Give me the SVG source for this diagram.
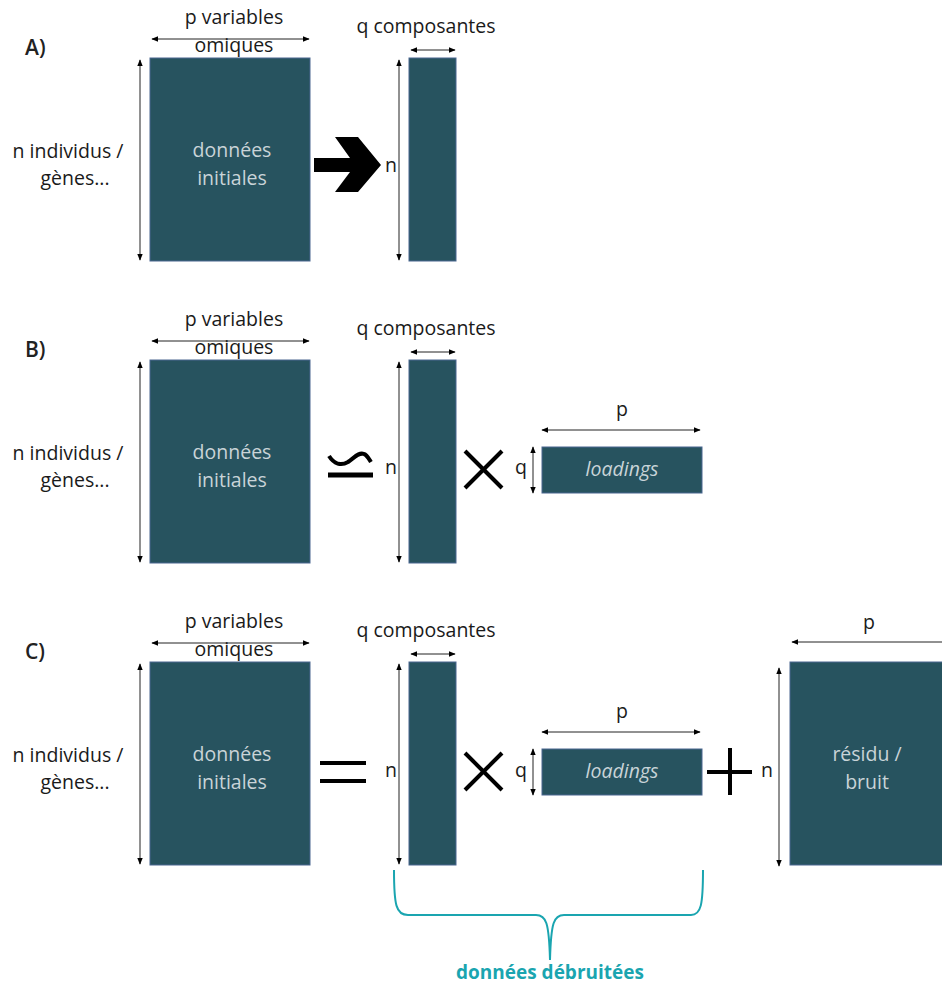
<svg xmlns="http://www.w3.org/2000/svg" width="942" height="985" viewBox="0 0 942 985">
<defs>
<marker id="ah" viewBox="0 0 10 10" refX="9" refY="5" markerWidth="7" markerHeight="7" markerUnits="userSpaceOnUse" orient="auto-start-reverse">
<path d="M0,1 L10,5 L0,9 Z" fill="#000"/>
</marker>
<style>
.m{fill:#27535F;stroke:#4A6690;stroke-width:1}
.t{font-family:"Open Sans","Liberation Sans",sans-serif;font-size:19.5px;fill:#1a1a1a;text-anchor:middle}
.w{font-family:"Open Sans","Liberation Sans",sans-serif;font-size:19.5px;fill:#C9D4D8;text-anchor:middle}
.i{font-style:italic}
.h{font-family:"Open Sans","Liberation Sans",sans-serif;font-size:21px;font-weight:600;fill:#222}
.d{stroke:#222;stroke-width:1;fill:none;marker-start:url(#ah);marker-end:url(#ah)}
.d1{stroke:#222;stroke-width:1;fill:none;marker-start:url(#ah)}
.op{stroke:#000;stroke-width:4;fill:none}
.br{stroke:#1AA5B0;stroke-width:2;fill:none}
.bt{font-family:"Open Sans","Liberation Sans",sans-serif;font-size:19px;font-weight:bold;fill:#1AA5B0;text-anchor:middle}
</style>
</defs>

<!-- Panel A -->
<g id="labelA"><text class="h" x="25" y="55">A)</text></g>
<g id="A-data">
<rect class="m" x="150" y="58" width="160" height="203"/>
<text class="w" x="232" y="157">données</text>
<text class="w" x="232" y="185">initiales</text>
</g>
<g id="A-labels">
<text class="t" x="234" y="24">p variables</text>
<text class="t" x="234" y="52">omiques</text>
<text class="t" x="68" y="158">n individus /</text>
<text class="t" x="75" y="185">gènes...</text>
</g>
<g id="A-arrow">
<polygon points="314,158 350,158 335,137 358,137 381,165 358,192 335,192 350,172 314,172" fill="#000"/>
</g>
<g id="A-comp">
<rect class="m" x="409" y="58" width="47" height="203"/>
<text class="t" x="426" y="33">q composantes</text>
<text class="t" x="391" y="172">n</text>
</g>

<!-- Panel B -->
<g id="labelB"><text class="h" x="25" y="357">B)</text></g>
<g id="B-data">
<rect class="m" x="150" y="360" width="160" height="203"/>
<text class="w" x="232" y="459">données</text>
<text class="w" x="232" y="487">initiales</text>
</g>
<g id="B-labels">
<text class="t" x="234" y="326">p variables</text>
<text class="t" x="234" y="354">omiques</text>
<text class="t" x="68" y="460">n individus /</text>
<text class="t" x="75" y="487">gènes...</text>
</g>
<g id="B-approx">
<path class="op" d="M329,456 C334,464 341,466 348,462 C355,457 359,452 364,454 C367,455 369,459 371,462"/>
<line x1="328" y1="475" x2="373" y2="475" stroke="#000" stroke-width="5"/>
</g>
<g id="B-comp">
<rect class="m" x="409" y="360" width="47" height="203"/>
<text class="t" x="426" y="335">q composantes</text>
<text class="t" x="391" y="474">n</text>
</g>
<g id="B-times">
<line class="op" x1="465" y1="451" x2="502" y2="488"/>
<line class="op" x1="502" y1="451" x2="465" y2="488"/>
</g>
<g id="B-loadings">
<rect class="m" x="542" y="447" width="160" height="46"/>
<text class="w i" x="622" y="476">loadings</text>
<text class="t" x="622" y="416">p</text>
<text class="t" x="521" y="474">q</text>
</g>

<!-- Panel C -->
<g id="labelC"><text class="h" x="25" y="659">C)</text></g>
<g id="C-data">
<rect class="m" x="150" y="662" width="160" height="203"/>
<text class="w" x="232" y="761">données</text>
<text class="w" x="232" y="789">initiales</text>
</g>
<g id="C-labels">
<text class="t" x="234" y="628">p variables</text>
<text class="t" x="234" y="656">omiques</text>
<text class="t" x="68" y="762">n individus /</text>
<text class="t" x="75" y="789">gènes...</text>
</g>
<g id="C-equals">
<line class="op" x1="320" y1="763" x2="366" y2="763"/>
<line class="op" x1="320" y1="781" x2="366" y2="781"/>
</g>
<g id="C-comp">
<rect class="m" x="409" y="662" width="47" height="203"/>
<text class="t" x="426" y="637">q composantes</text>
<text class="t" x="391" y="777">n</text>
</g>
<g id="C-times">
<line class="op" x1="465" y1="753" x2="502" y2="790"/>
<line class="op" x1="502" y1="753" x2="465" y2="790"/>
</g>
<g id="C-loadings">
<rect class="m" x="542" y="749" width="160" height="46"/>
<text class="w i" x="622" y="778">loadings</text>
<text class="t" x="622" y="718">p</text>
<text class="t" x="521" y="777">q</text>
</g>
<g id="C-plus">
<line class="op" x1="707" y1="772" x2="752" y2="772"/>
<line class="op" x1="730" y1="748" x2="730" y2="795"/>
</g>
<g id="C-residu">
<rect class="m" x="790" y="662" width="160" height="203"/>
<text class="w" x="867" y="761">résidu /</text>
<text class="w" x="867" y="789">bruit</text>
<text class="t" x="869" y="629">p</text>
<text class="t" x="767" y="777">n</text>
</g>
<g id="C-brace">
<path class="br" d="M394,870 C394,905 396,915 408,915 L536,915 C546,915 549,922 550,960 C551,922 554,915 564,915 L691,915 C701,915 703,905 703,870"/>
<text class="bt" x="550" y="979">données débruitées</text>
</g>

<!-- connectors / dimension arrows -->
<g id="connectors">
<line class="d" x1="152" y1="39" x2="309" y2="39"/>
<line class="d" x1="140" y1="60" x2="140" y2="260"/>
<line class="d" x1="411" y1="50" x2="455" y2="50"/>
<line class="d" x1="399" y1="60" x2="399" y2="260"/>

<line class="d" x1="152" y1="341" x2="309" y2="341"/>
<line class="d" x1="140" y1="362" x2="140" y2="562"/>
<line class="d" x1="411" y1="352" x2="455" y2="352"/>
<line class="d" x1="399" y1="362" x2="399" y2="562"/>
<line class="d" x1="542" y1="430" x2="700" y2="430"/>
<line class="d" x1="533" y1="447" x2="533" y2="493"/>

<line class="d" x1="152" y1="643" x2="309" y2="643"/>
<line class="d" x1="140" y1="664" x2="140" y2="864"/>
<line class="d" x1="411" y1="654" x2="455" y2="654"/>
<line class="d" x1="399" y1="664" x2="399" y2="864"/>
<line class="d" x1="542" y1="732" x2="700" y2="732"/>
<line class="d" x1="533" y1="749" x2="533" y2="795"/>
<line class="d1" x1="792" y1="642" x2="942" y2="642"/>
<line class="d" x1="779" y1="668" x2="779" y2="866"/>
</g>
</svg>
